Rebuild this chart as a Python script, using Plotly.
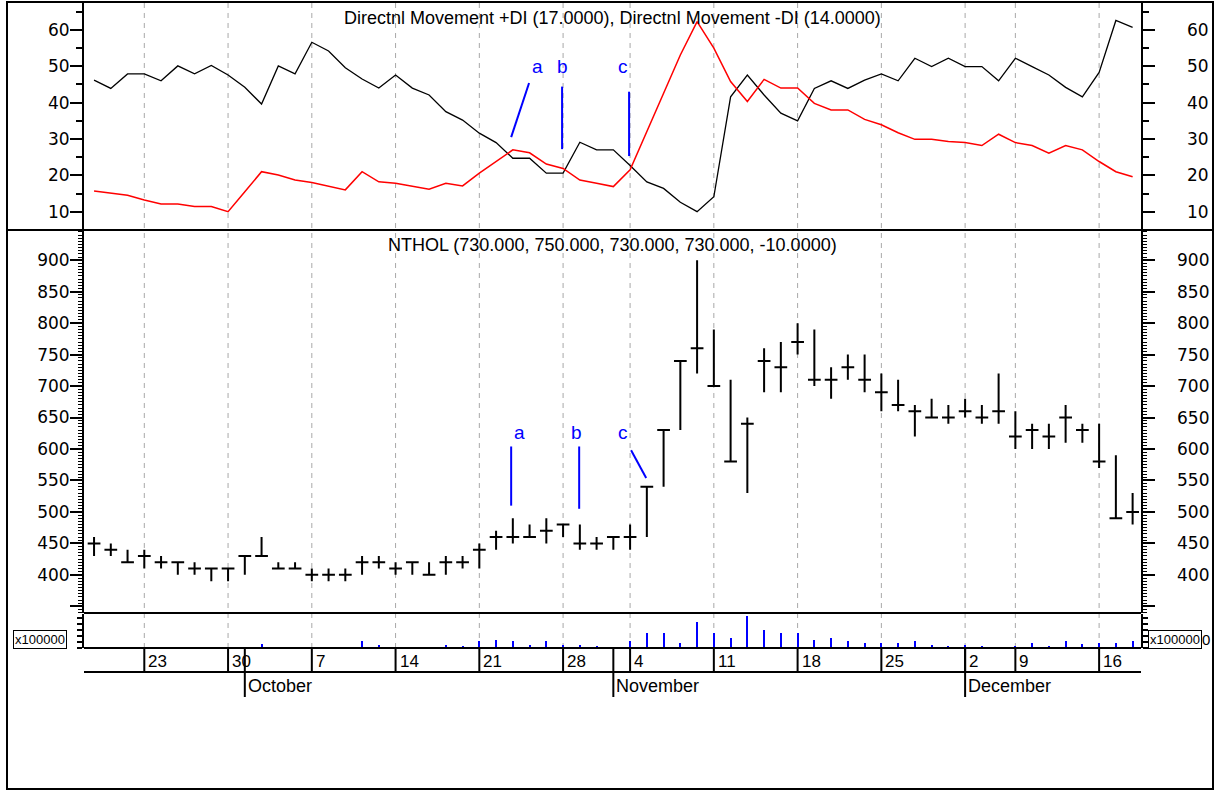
import pandas as pd
import plotly.graph_objects as go

# trading days on the chart (holidays dropped)
dates = pd.bdate_range("2002-09-18", "2002-12-18")
dates = dates.drop(pd.to_datetime(["2002-10-31", "2002-12-05", "2002-12-06"]))

di_plus = [15.7, 15.2, 14.5, 13.2, 12.1, 12.1, 11.4, 11.4, 10.0, 15.5,
           21.0, 20.1, 18.7, 18.0, 17.1, 16.0, 21.0, 18.2, 17.8, 16.9,
           16.2, 17.8, 17.1, 20.6, 23.8, 27.0, 26.2, 23.1, 21.9, 18.7,
           17.8, 16.9, 21.5, 32.0, 42.6, 53.1, 62.3, 55.0, 45.8, 40.3,
           46.4, 44.0, 44.0, 39.8, 38.0, 38.0, 35.4, 33.9, 31.7, 29.9,
           29.9, 29.3, 29.0, 28.2, 31.3, 29.0, 28.2, 26.1, 28.2, 27.0,
           23.8, 21.0, 19.6]
di_minus = [46.2, 43.9, 47.9, 47.9, 46.0, 50.1, 47.9, 50.2, 47.6, 44.2,
            39.6, 50.1, 47.9, 56.6, 54.2, 49.6, 46.5, 44.0, 47.6, 44.0,
            42.1, 37.5, 35.2, 31.6, 29.0, 24.7, 24.7, 20.6, 20.6, 29.1,
            27.0, 27.0, 22.7, 18.2, 16.4, 12.6, 10.0, 14.1, 41.6, 47.6,
            42.1, 37.1, 35.0, 43.9, 46.0, 43.9, 46.2, 47.9, 46.0, 52.2,
            49.9, 52.2, 49.9, 49.9, 46.0, 52.2, 49.9, 47.6, 44.2, 41.6,
            48.3, 62.6, 60.7]

highs = [460, 450, 440, 440, 430, 420, 420, 410, 410, 430,
         460, 420, 420, 410, 410, 410, 430, 430, 420, 420,
         420, 430, 430, 450, 470, 490, 480, 490, 480, 480,
         460, 460, 480, 540, 630, 740, 900, 790, 710, 650,
         760, 770, 800, 790, 730, 750, 750, 720, 710, 670,
         680, 670, 680, 670, 720, 660, 640, 640, 670, 640,
         640, 590, 530]
lows = [430, 430, 420, 410, 410, 400, 400, 390, 390, 400,
        430, 410, 410, 390, 390, 390, 400, 410, 400, 400,
        400, 400, 410, 410, 440, 450, 460, 450, 460, 440,
        440, 440, 440, 460, 540, 630, 720, 700, 580, 530,
        690, 690, 750, 700, 680, 710, 690, 660, 660, 620,
        650, 640, 650, 640, 640, 600, 600, 600, 610, 610,
        570, 490, 480]
opens = [450, 440, 420, 430, 420, 420, 410, 410, 410, 430,
         430, 410, 410, 400, 400, 400, 420, 420, 410, 420,
         400, 420, 420, 440, 460, 460, 460, 470, 480, 450,
         450, 460, 460, 540, 630, 740, 760, 700, 580, 640,
         740, 730, 770, 710, 710, 730, 710, 690, 670, 660,
         650, 650, 660, 650, 660, 620, 630, 620, 650, 630,
         580, 490, 500]
closes = [450, 440, 420, 430, 420, 420, 410, 410, 410, 430,
          430, 410, 410, 400, 400, 400, 420, 420, 410, 420,
          400, 420, 420, 440, 460, 460, 460, 470, 480, 450,
          450, 460, 460, 540, 630, 740, 760, 700, 580, 640,
          740, 730, 770, 710, 710, 730, 710, 690, 670, 660,
          650, 650, 660, 650, 660, 620, 630, 620, 650, 630,
          580, 490, 500]
# volume, x100000
volume = [0.5, 0, 0.5, 0, 0, 0, 0, 0, 0, 0,
          2, 0, 0, 0, 0, 0, 3.5, 1.5, 0, 0,
          0, 1.5, 1, 3.5, 4, 3.5, 1.5, 3.5, 1.5, 1.5,
          1, 0, 3.5, 7.5, 7.5, 2.5, 13, 7.5, 5, 16,
          9, 7.5, 7.5, 4, 5, 3.5, 2.5, 2.5, 2.5, 3.5,
          1.5, 1, 1.5, 1, 0, 1, 2.5, 1, 3.5, 2,
          2.5, 2.5, 3.5]

di_ticks = [10, 20, 30, 40, 50, 60]
price_ticks = [400, 450, 500, 550, 600, 650, 700, 750, 800, 850, 900]

di_title = "Directnl Movement +DI (17.0000), Directnl Movement -DI (14.0000)"
price_title = "NTHOL (730.000, 750.000, 730.000, 730.000, -10.0000)"

W, H = 1219, 794
FONT = "Liberation Sans, Arial, sans-serif"
TICKFONT = dict(family="DejaVu Sans, sans-serif", size=17, color="black")
BLUE = "#0000ff"


def fx(p):
    return p / W


def fy(p):
    return 1 - p / H


idx = list(range(len(dates)))
xr = [-0.6, len(dates) - 0.5]

fig = go.Figure()
fig.add_trace(go.Scatter(x=idx, y=di_minus, mode="lines", line=dict(color="black", width=1.3),
                         xaxis="x", yaxis="y", hoverinfo="skip"))
fig.add_trace(go.Scatter(x=idx, y=di_plus, mode="lines", line=dict(color="#ff0000", width=1.5),
                         xaxis="x", yaxis="y", hoverinfo="skip"))
fig.add_trace(go.Ohlc(x=idx, open=opens, high=highs, low=lows, close=closes,
                      increasing_line_color="black", decreasing_line_color="black",
                      line_width=2, tickwidth=0.38, xaxis="x2", yaxis="y2", hoverinfo="skip"))
fig.add_trace(go.Bar(x=idx, y=volume, width=0.12, marker_color=BLUE, marker_line_width=0,
                     xaxis="x3", yaxis="y3", hoverinfo="skip"))

xcommon = dict(range=xr, showgrid=False, showticklabels=False, zeroline=False, ticks="",
               domain=[fx(84), fx(1141)])
ycommon = dict(showgrid=False, zeroline=False, showline=True, linecolor="black", linewidth=2,
               mirror="ticks", ticks="outside", tickcolor="black", tickwidth=1.5,
               tickfont=TICKFONT, ticklabelstandoff=-3)

fig.update_layout(
    width=W, height=H, margin=dict(l=0, r=0, t=0, b=0),
    paper_bgcolor="white", plot_bgcolor="white", showlegend=False,
    xaxis=dict(**xcommon, anchor="y"),
    xaxis2=dict(**xcommon, anchor="y2", matches="x", rangeslider=dict(visible=False)),
    xaxis3=dict(**xcommon, anchor="y3", matches="x"),
    yaxis=dict(**ycommon, domain=[fy(230), fy(3)], range=[4.96, 67.4], anchor="x",
               tickmode="linear", tick0=0, dtick=10, ticklen=12,
               minor=dict(tickmode="linear", tick0=0, dtick=5, ticklen=6, ticks="outside",
                          tickcolor="black", tickwidth=1.5)),
    yaxis2=dict(**ycommon, domain=[fy(613), fy(230)], range=[339.4, 948], anchor="x2",
                tickmode="array", tickvals=[350] + price_ticks,
                ticktext=[""] + [str(v) for v in price_ticks], ticklen=12,
                minor=dict(tickmode="linear", tick0=0, dtick=5, ticklen=4, ticks="outside",
                           tickcolor="black", tickwidth=1)),
    yaxis3=dict(**ycommon, domain=[fy(648), fy(614)], range=[0, 17], anchor="x3",
                tickmode="linear", tick0=0, dtick=3, ticklen=5, showticklabels=False),
    bargap=0,
)

shapes = []
ann = []

# outer frame and separators
shapes.append(dict(type="rect", xref="paper", yref="paper", x0=fx(7), x1=fx(1213),
                   y0=fy(789), y1=fy(2), line=dict(color="black", width=2)))
shapes.append(dict(type="line", xref="paper", yref="paper", x0=fx(7), x1=fx(1213),
                   y0=fy(230), y1=fy(230), line=dict(color="black", width=2)))
for yy in (613, 648, 672):
    shapes.append(dict(type="line", xref="paper", yref="paper", x0=fx(84), x1=fx(1141),
                       y0=fy(yy), y1=fy(yy), line=dict(color="black", width=2)))

# weekly dashed grid + day labels, month markers
for i, d in enumerate(dates):
    if d.weekday() == 0:
        shapes.append(dict(type="line", xref="x", yref="paper", x0=i, x1=i,
                           y0=fy(648), y1=fy(3), layer="below",
                           line=dict(color="#a8a8a8", width=1, dash="5px,5px")))
        shapes.append(dict(type="line", xref="x", yref="paper", x0=i, x1=i,
                           y0=fy(672), y1=fy(648), line=dict(color="black", width=2)))
        ann.append(dict(x=i, xref="x", y=fy(661), yref="paper", text=str(d.day),
                        xanchor="left", yanchor="middle", xshift=2, showarrow=False,
                        font=dict(family=FONT, size=17, color="black")))
    if i > 0 and d.month != dates[i - 1].month:
        shapes.append(dict(type="line", xref="x", yref="paper", x0=i, x1=i,
                           y0=fy(697), y1=fy(648), line=dict(color="black", width=2)))
        ann.append(dict(x=i, xref="x", y=fy(686), yref="paper", text=d.strftime("%B"),
                        xanchor="left", yanchor="middle", xshift=1, showarrow=False,
                        font=dict(family=FONT, size=18, color="black")))

# right-hand tick labels
for v in di_ticks:
    ann.append(dict(x=fx(1211), xref="paper", y=v, yref="y", text=str(v), xanchor="right",
                    yanchor="middle", showarrow=False, font=TICKFONT))
for v in price_ticks:
    ann.append(dict(x=fx(1211), xref="paper", y=v, yref="y2", text=str(v), xanchor="right",
                    yanchor="middle", showarrow=False, font=TICKFONT))

# panel titles
ann.append(dict(x=fx(612), xref="paper", y=fy(18), yref="paper", text=di_title, showarrow=False,
                xanchor="center", yanchor="middle", font=dict(family=FONT, size=18, color="black")))
ann.append(dict(x=fx(612), xref="paper", y=fy(245), yref="paper", text=price_title, showarrow=False,
                xanchor="center", yanchor="middle", font=dict(family=FONT, size=18, color="black")))

# volume scale boxes
ann.append(dict(x=fx(40), xref="paper", xanchor="center", y=fy(639), yref="paper",
                yanchor="middle", text="x100000", showarrow=False,
                font=dict(family=FONT, size=13, color="black"),
                bordercolor="black", borderwidth=1, borderpad=1, bgcolor="white"))
ann.append(dict(x=fx(1175), xref="paper", xanchor="center", y=fy(639), yref="paper",
                yanchor="middle", text="x100000", showarrow=False,
                font=dict(family=FONT, size=13, color="black"),
                bordercolor="black", borderwidth=1, borderpad=1, bgcolor="white"))
ann.append(dict(x=fx(1212), xref="paper", y=fy(639), yref="paper", yanchor="middle", text="0",
                showarrow=False, xanchor="right", font=dict(family=FONT, size=15, color="black")))

# a / b / c markers on DI panel
for (x0, y0, x1, y1) in [(24.9, 30.5, 25.97, 45.4), (27.94, 27.2, 27.94, 44.4), (31.94, 25.3, 31.94, 43.0)]:
    shapes.append(dict(type="line", xref="x", yref="y", x0=x0, y0=y0, x1=x1, y1=y1,
                       line=dict(color=BLUE, width=2)))
for txt, xx in [("a", 26.5), ("b", 27.94), ("c", 31.6)]:
    ann.append(dict(x=xx, xref="x", y=49.8, yref="y", text=txt, showarrow=False,
                    font=dict(family=FONT, size=19, color=BLUE)))

# a / b / c markers on price panel
for (x0, y0, x1, y1) in [(24.9, 510, 24.9, 604), (28.96, 505, 28.96, 604), (32.06, 598, 32.96, 554)]:
    shapes.append(dict(type="line", xref="x2", yref="y2", x0=x0, y0=y0, x1=x1, y1=y1,
                       line=dict(color=BLUE, width=2)))
for txt, xx in [("a", 25.37), ("b", 28.78), ("c", 31.58)]:
    ann.append(dict(x=xx, xref="x2", y=626, yref="y2", text=txt, showarrow=False,
                    font=dict(family=FONT, size=19, color=BLUE)))

fig.update_layout(shapes=shapes, annotations=ann)
fig.write_html("out.html", config={"displayModeBar": False},
               post_script="document.body.style.margin='0px';")
